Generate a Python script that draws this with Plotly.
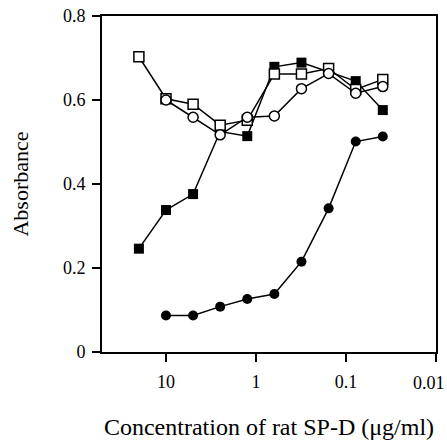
import math
import plotly.graph_objects as go

conc_all = [20, 10, 5, 2.5, 1.25, 0.625, 0.3125, 0.156, 0.078, 0.039]
conc_from10 = [10, 5, 2.5, 1.25, 0.625, 0.3125, 0.156, 0.078, 0.039]

filled_square = [0.246, 0.338, 0.376, 0.525, 0.514, 0.679, 0.689, 0.667, 0.645, 0.576]
open_square = [0.703, 0.603, 0.590, 0.540, 0.552, 0.662, 0.662, 0.675, 0.625, 0.649]
open_circle = [0.600, 0.559, 0.517, 0.559, 0.562, 0.627, 0.663, 0.616, 0.632]
filled_circle = [0.087, 0.087, 0.108, 0.126, 0.138, 0.215, 0.342, 0.501, 0.513]

x_tickvals = [10, 1, 0.1, 0.01]
x_ticktext = ["10", "1", "0.1", "0.01"]
y_tickvals = [0, 0.2, 0.4, 0.6, 0.8]
y_ticktext = ["0", "0.2", "0.4", "0.6", "0.8"]

line = dict(color="black", width=1.5)
fig = go.Figure()
fig.add_trace(go.Scatter(x=conc_all, y=filled_square, mode="lines+markers", line=line,
                         marker=dict(symbol="square", size=10, color="black")))
fig.add_trace(go.Scatter(x=conc_all, y=open_square, mode="lines+markers", line=line,
                         marker=dict(symbol="square", size=10, color="white",
                                     line=dict(color="black", width=1.5))))
fig.add_trace(go.Scatter(x=conc_from10, y=open_circle, mode="lines+markers", line=line,
                         marker=dict(symbol="circle", size=10, color="white",
                                     line=dict(color="black", width=1.5))))
fig.add_trace(go.Scatter(x=conc_from10, y=filled_circle, mode="lines+markers", line=line,
                         marker=dict(symbol="circle", size=10, color="black")))

fam = "Liberation Serif, Times New Roman, serif"
# last tick label is drawn as an annotation, right-aligned so it stays inside the page
shown_ticktext = x_ticktext[:-1] + [""]
fig.add_annotation(x=math.log10(x_tickvals[-1]), xref="x", y=0, yref="paper",
                   text=x_ticktext[-1], showarrow=False, xanchor="right", yanchor="middle",
                   xshift=11, yshift=-31, font=dict(family=fam, size=18, color="black"))

fig.update_layout(
    width=447, height=440,
    margin=dict(l=102, r=11, t=16, b=88),
    plot_bgcolor="white", paper_bgcolor="white",
    showlegend=False,
    font=dict(family=fam, size=18, color="black"),
    xaxis=dict(type="log", range=[1.711, -2], tickvals=x_tickvals, ticktext=shown_ticktext,
               automargin=False, tickfont=dict(family=fam, size=18, color="black"),
               ticklabelstandoff=4, ticklabeloverflow="allow",
               showgrid=False, zeroline=False, showline=True, linecolor="black", linewidth=2,
               mirror=True, ticks="outside", ticklen=8, tickwidth=2, tickcolor="black",
               title=dict(text="Concentration of rat SP-D (μg/ml)", standoff=30,
                          font=dict(family=fam, size=24, color="black"))),
    yaxis=dict(range=[0, 0.8], tickvals=y_tickvals, ticktext=y_ticktext,
               automargin=False, tickfont=dict(family=fam, size=18, color="black"),
               ticklabelstandoff=3, ticklabeloverflow="allow",
               showgrid=False, zeroline=False, showline=True, linecolor="black", linewidth=2,
               mirror=True, ticks="outside", ticklen=8, tickwidth=2, tickcolor="black",
               title=dict(text="Absorbance", standoff=28,
                          font=dict(family=fam, size=22, color="black"))),
)
fig.write_html("out.html", config={"displayModeBar": False},
               post_script="document.body.style.margin='0';")
